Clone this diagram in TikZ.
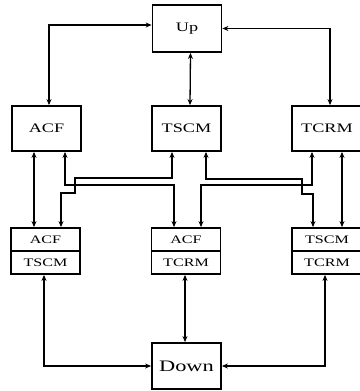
\documentclass[tikz,border=0pt]{standalone}
\usepackage{fontspec}
\setmainfont{Liberation Serif}[FakeStretch=1.4]
\usetikzlibrary{arrows.meta}

\begin{document}
\begin{tikzpicture}[x=1pt,y=-1pt,>={Stealth[length=6pt,width=5pt]},
	box/.style={rectangle,draw=black,line width=1.8pt,minimum width=69pt,minimum height=45pt,inner sep=0pt,font=\fontsize{13}{15}\selectfont},
	half/.style={rectangle,draw=black,line width=1.8pt,minimum width=69pt,minimum height=23pt,inner sep=0pt,font=\fontsize{11.5}{13}\selectfont},
	wire/.style={line width=1.3pt}]
	\useasboundingbox (0,0) rectangle (359,391);
	\node[box,minimum height=47pt] (Up) at (187,28.5) {Up};
	\node[box] (ACF) at (46.5,128.5) {ACF};
	\node[box] (TSCM) at (186.5,128.5) {TSCM};
	\node[box,minimum width=70pt] (TCRM) at (327,128.5) {TCRM};
	\node[half] (aT) at (45.5,239.5) {ACF};
	\node[half] (aB) at (45.5,262.5) {TSCM};
	\node[half] (mT) at (186,239.5) {ACF};
	\node[half] (mB) at (186,262.5) {TCRM};
	\node[half,minimum width=70pt] (cT) at (327,239.5) {TSCM};
	\node[half,minimum width=70pt] (cB) at (327,262.5) {TCRM};
	\node[box,minimum height=46pt,font=\fontsize{16}{18}\selectfont] (Down) at (186.5,366) {Down};
	\begin{scope}[wire]
	\draw[<->] ([xshift=2.5pt]ACF.north) |- ([yshift=3.5pt]Up.west);
	\draw[<->] ([xshift=3pt]TCRM.north) |- (Up.east);
	\draw[<->] ([xshift=3.5pt]Up.south) -- ([xshift=3.5pt]TSCM.north);
	\draw[<->] ([xshift=-12.5pt]ACF.south) -- ([xshift=-12.5pt]ACF.south |- aT.north);
	\draw[<->] ([xshift=15pt]TCRM.south) -- ([xshift=15pt]TCRM.south |- cT.north);
	\draw[<->] ([xshift=18.5pt]ACF.south) |- (174,185) -- ([xshift=-12pt]mT.north);
	\draw[<->] ([xshift=-14.5pt]TSCM.south) |- (75,178) |- (61,193) -- ([xshift=15.5pt]aT.north);
	\draw[<->] ([xshift=19.5pt]TSCM.south) |- (302,179) |- (313,194) -- ([xshift=-14pt]cT.north);
	\draw[<->] ([xshift=-15pt]TCRM.south) |- (201,185) -- ([xshift=15pt]mT.north);
	\draw[<->] ([xshift=-1.5pt]aB.south) |- (Down.west);
	\draw[<->] ([xshift=-1pt]mB.south) -- ([xshift=-1pt]mB.south |- Down.north);
	\draw[<->] ([xshift=-2pt]cB.south) |- (Down.east);
	\end{scope}
\end{tikzpicture}
\end{document}
